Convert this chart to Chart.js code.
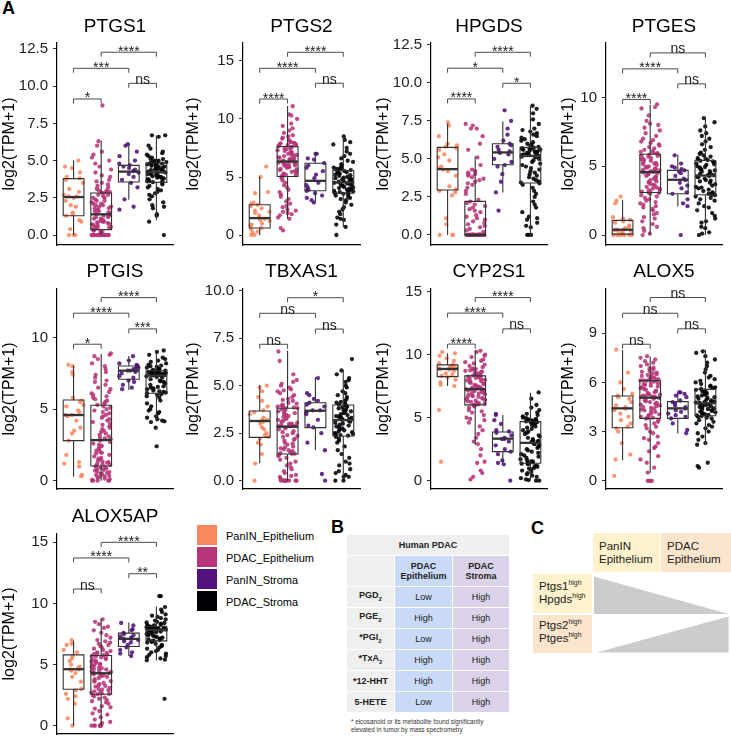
<!DOCTYPE html>
<html><head><meta charset="utf-8">
<script src="https://cdn.jsdelivr.net/npm/chart.js@4.4.1/dist/chart.umd.min.js"></script>
<style>
html,body{margin:0;padding:0;background:#fff;}
body{width:731px;height:737px;position:relative;overflow:hidden;font-family:"Liberation Sans",Arial,sans-serif;color:#000;}
canvas{position:absolute;}
.abs{position:absolute;}
.big{position:absolute;font-weight:bold;font-size:18px;line-height:18px;}
.key{position:absolute;left:197px;width:20px;height:20px;}
.ktxt{position:absolute;left:226px;font-size:11px;line-height:12px;white-space:nowrap;}
.cell{position:absolute;display:flex;align-items:center;justify-content:center;text-align:center;font-size:9px;line-height:10.5px;color:#222;}
.cell b sub{font-size:6px;}
.g{background:#efefef;} .bl{background:#c9daf8;} .pu{background:#d9d2e9;}
.cbox{position:absolute;font-size:11.5px;line-height:13.3px;color:#222;box-sizing:border-box;}
.cbox sup{font-size:7px;vertical-align:5px;line-height:0;}
.foot{position:absolute;left:351px;top:717.5px;font-size:6.3px;line-height:8px;color:#333;white-space:nowrap;}
</style></head><body>

<div class="big" style="left:2px;top:-1px;">A</div>
<div class="big" style="left:331px;top:517.5px;">B</div>
<div class="big" style="left:531px;top:519px;">C</div>

<!-- legend -->
<div class="key" style="top:525px;background:#FB8861"></div><div class="ktxt" style="top:529.5px">PanIN_Epithelium</div>
<div class="key" style="top:547px;background:#B63679"></div><div class="ktxt" style="top:551.5px">PDAC_Epithelium</div>
<div class="key" style="top:569px;background:#51127C"></div><div class="ktxt" style="top:573.5px">PanIN_Stroma</div>
<div class="key" style="top:591px;background:#000004"></div><div class="ktxt" style="top:595.5px">PDAC_Stroma</div>

<!-- table B -->
<div class="cell g" style="left:347px;top:535px;width:162px;height:20px;"><b>Human PDAC</b></div>
<div class="cell g" style="left:347px;top:556px;width:47px;height:30px;"></div>
<div class="cell bl" style="left:395px;top:556px;width:57px;height:30px;"><b>PDAC<br>Epithelium</b></div>
<div class="cell pu" style="left:453px;top:556px;width:56px;height:30px;"><b>PDAC<br>Stroma</b></div>
<div id="tbl"></div>
<div class="foot">* eicosanoid or its metabolite found significantly<br>elevated in tumor by mass spectrometry</div>

<!-- panel C -->
<div class="cbox" style="left:593px;top:533px;width:67px;height:39px;background:#fff2cc;padding:7px 0 0 6px;">PanIN<br>Epithelium</div>
<div class="cbox" style="left:661px;top:533px;width:70px;height:39px;background:#fce5cd;padding:7px 0 0 6px;">PDAC<br>Epithelium</div>
<div class="cbox" style="left:533px;top:574px;width:59px;height:39px;background:#fff2cc;padding:6px 0 0 6px;line-height:12.5px;">Ptgs1<sup>high</sup><br>Hpgds<sup>high</sup></div>
<div class="cbox" style="left:533px;top:615px;width:59px;height:38px;background:#fce5cd;padding:4px 0 0 6px;line-height:12.5px;">Ptgs2<sup>high</sup><br>Ptges<sup>high</sup></div>
<svg class="abs" style="left:0;top:0" width="731" height="737">
<polygon points="594,576.5 594,614 728.5,614" fill="#cccccc"/>
<polygon points="596.5,652.5 728.5,616.5 728.5,652.5" fill="#cccccc"/>
</svg>

<script>
// ---------------- DATA ----------------
const GROUPS = ['PanIN_Epithelium','PDAC_Epithelium','PanIN_Stroma','PDAC_Stroma'];
const COLORS = ['#FB8861','#B63679','#51127C','#000004'];
const PAIRS = [[1,2],[1,3],[3,4],[2,4]];

// table B
const TB_ROWS = ['PGD|2','PGE|2','*PGI|2','*TxA|2','*12-HHT','5-HETE'];
const TB_EPI = ['Low','High','Low','High','High','Low'];
const TB_STR = ['High','High','High','High','High','High'];

// PTGS1
const PTGS1_ticks = [0,2.5,5,7.5,10,12.5];
const PTGS1_sig = ['*','***','ns','****'];
const PTGS1_brk = [9.14,11.2,10.19,12.28];
const PTGS1_box = [[0,1.30,2.55,3.79,5.02],[0,0.36,1.39,2.82,6.34],[2.37,3.56,4.26,4.68,6.07],[1.0,3.54,4.21,4.84,6.68]];
const PTGS1_o = [5.0,4.6,4.5,4.2,3.9,3.8,3.7,3.5,3.1,2.9,2.7,2.6,2.6,2.5,2.3,2.0,1.9,1.5,1.4,1.3,1.0,0.9,0.4,0,0,0];
const PTGS1_m = [8.7,6.3,6.0,5.6,5.4,5.2,5.0,4.8,4.6,4.4,4.2,4.0,3.9,3.7,3.6,3.5,3.4,3.3,3.2,3.1,3.0,3.0,2.9,2.9,2.85,
 2.8,2.7,2.7,2.6,2.5,2.5,2.4,2.3,2.3,2.2,2.1,2.1,2.0,2.0,1.9,1.9,1.8,1.8,1.7,1.7,1.6,1.6,1.5,1.5,1.4,
 1.35,1.3,1.3,1.2,1.2,1.1,1.1,1.0,1.0,0.95,0.9,0.9,0.85,0.8,0.8,0.75,0.7,0.7,0.6,0.6,0.55,0.5,0.5,0.45,0.4,
 0.3,0.3,0.2,0.2,0.1,0.1,0,0,0,0,0,0,0,0,0,0,0,0,0,0,0,0,0,0,0];
const PTGS1_p = [6.1,6.0,5.6,5.3,5.0,4.8,4.7,4.6,4.5,4.4,4.3,4.2,4.1,3.9,3.7,3.5,3.2,2.4,1.9,1.7];
const PTGS1_b = [6.7,6.7,6.6,6.0,5.8,5.6,5.5,5.4,5.3,5.2,5.1,5.1,5.0,5.0,4.95,4.9,4.9,4.85,4.85,
 4.8,4.8,4.75,4.7,4.7,4.65,4.6,4.6,4.55,4.5,4.5,4.45,4.4,4.4,4.35,4.3,4.3,4.25,4.2,
 4.2,4.15,4.1,4.1,4.05,4.0,4.0,3.95,3.9,3.9,3.85,3.8,3.8,3.75,3.7,3.65,3.6,3.6,3.55,
 3.5,3.4,3.3,3.2,3.1,3.0,2.9,2.8,2.7,2.6,2.4,2.2,2.0,1.9,1.8,1.4,1.3,0.9,0.0];

// PTGS2
const PTGS2_ticks = [0,5,10,15];
const PTGS2_sig = ['****','****','ns','****'];
const PTGS2_brk = [11.72,14.37,13.08,15.75];
const PTGS2_box = [[0,0.6,1.46,2.61,5.05],[1.4,5.05,6.34,7.63,11.13],[2.75,3.81,4.67,6.19,7.05],[0.66,3.61,4.53,5.56,8.49]];
const PTGS2_o = [5.9,5.0,3.7,3.6,2.8,2.7,2.6,2.5,2.3,2.1,2.0,1.9,1.7,1.5,1.4,1.3,1.2,1.0,0.9,0.8,0.6,0.5,0.3,0.2,0.0,0.0];
const PTGS2_m = [11.1,10.4,10.3,10.0,9.6,9.4,9.2,9.0,8.8,8.6,8.5,8.4,8.3,8.2,8.1,8.0,7.95,7.9,7.9,7.85,7.8,7.75,7.7,7.7,7.65,
 7.6,7.55,7.5,7.45,7.4,7.3,7.25,7.2,7.1,7.05,7.0,6.95,6.9,6.85,6.8,6.7,6.7,6.65,6.6,6.55,6.5,6.45,6.4,6.4,6.35,
 6.3,6.3,6.25,6.2,6.2,6.15,6.1,6.0,6.0,5.95,5.9,5.85,5.8,5.7,5.65,5.6,5.5,5.45,5.4,5.3,5.25,5.2,5.15,5.1,5.05,
 5.0,4.9,4.7,4.5,4.3,4.1,3.9,3.7,3.5,3.3,3.1,2.9,2.7,2.5,2.4,2.2,2.1,2.0,1.9,1.8,1.7,1.5,1.4,0.6,0.4];
const PTGS2_p = [7.0,7.0,6.6,6.5,6.2,6.0,5.8,5.5,5.2,4.9,4.5,4.3,4.1,3.9,3.8,3.6,3.4,3.2,3.0,2.8];
const PTGS2_b = [8.5,8.2,8.0,7.8,7.5,7.2,7.0,6.8,6.6,6.4,6.3,6.1,6.0,5.9,5.8,5.75,5.7,5.65,5.6,
 5.55,5.5,5.45,5.4,5.35,5.3,5.2,5.15,5.1,5.0,4.95,4.9,4.85,4.8,4.75,4.7,4.65,4.6,4.55,
 4.5,4.45,4.4,4.35,4.3,4.25,4.2,4.15,4.1,4.05,4.0,3.95,3.9,3.85,3.8,3.75,3.7,3.65,3.62,
 3.55,3.5,3.4,3.3,3.2,3.1,3.0,2.8,2.6,2.4,2.2,2.0,1.8,1.5,1.4,1.3,0.9,0.7,0.0];

// HPGDS
const HPGDS_ticks = [0,2.5,5,7.5,10,12.5];
const HPGDS_sig = ['****','*','*','****'];
const HPGDS_brk = [8.95,10.97,9.98,12.02];
const HPGDS_box = [[0,2.96,4.33,5.76,7.31],[0,0,0,2.21,5.17],[2.8,4.62,5.43,6.0,7.46],[0,3.42,5.2,5.76,8.52]];
const HPGDS_o = [7.4,7.2,6.5,6.0,5.9,5.8,5.7,5.6,5.3,5.1,4.9,4.5,4.4,4.3,4.2,3.9,3.2,3.0,2.9,2.8,2.6,1.1,0.7,0,0,0];
const HPGDS_m = [7.3,7.2,7.0,7.0,6.5,6.0,5.6,5.1,4.6,4.3,4.2,4.1,4.0,4.0,3.9,3.8,3.7,3.6,3.5,3.4,3.3,3.1,2.9,2.7,2.3,
 2.2,2.1,2.0,1.9,1.8,1.7,1.6,1.5,1.3,1.2,1.1,1.0,0.9,0.8,0.7,0.6,0.5,0.4,0.3,0.2,
 0,0,0,0,0,0,0,0,0,0,0,0,0,0,0,0,0,0,0,0,0,0,0,0,0,0,0,0,0,0,0,0,0,0,0,0,0,0,0,0,0,0,0,0,0,0,0,0,0,0,0,0,0,0,0];
const HPGDS_p = [8.2,7.5,7.0,6.6,6.2,6.0,5.9,5.8,5.6,5.5,5.4,5.3,5.0,4.8,4.6,4.5,4.0,3.5,2.8,1.6];
const HPGDS_b = [8.5,8.3,8.0,7.6,7.3,7.0,6.9,6.8,6.7,6.6,6.5,6.4,6.3,6.2,6.1,6.0,5.95,5.9,5.8,
 5.75,5.72,5.7,5.68,5.65,5.6,5.6,5.55,5.5,5.5,5.45,5.4,5.4,5.35,5.3,5.3,5.25,5.25,5.2,
 5.15,5.1,5.0,4.9,4.8,4.7,4.6,4.5,4.4,4.3,4.2,4.1,4.0,3.9,3.8,3.7,3.6,3.5,3.45,
 3.4,3.3,3.1,2.9,2.7,2.5,2.2,2.0,1.8,1.5,1.2,1.1,1.0,0.8,0.6,0.5,0,0,0];

// PTGES
const PTGES_ticks = [0,5,10];
const PTGES_sig = ['****','****','ns','ns'];
const PTGES_brk = [9.86,12.08,10.99,13.24];
const PTGES_box = [[0,0.07,0.39,1.07,2.57],[0,3.1,4.58,5.88,9.47],[2.08,3.0,4.02,4.7,5.84],[0,2.93,4.33,5.42,8.5]];
const PTGES_o = [2.8,2.5,2.3,1.3,1.2,1.1,1.0,0.9,0.7,0.6,0.5,0.4,0.4,0.35,0.3,0.3,0.2,0.1,0.05,0,0,0,0,0,0,0];
const PTGES_m = [9.5,9.3,9.2,8.7,8.3,8.1,8.0,7.8,7.6,7.4,7.2,7.0,6.9,6.8,6.7,6.6,6.5,6.4,6.3,6.2,6.1,6.05,6.0,5.95,5.9,
 5.85,5.8,5.75,5.7,5.6,5.55,5.5,5.45,5.4,5.3,5.25,5.2,5.15,5.1,5.0,4.95,4.9,4.85,4.8,4.75,4.7,4.7,4.65,4.6,4.6,
 4.55,4.5,4.45,4.4,4.3,4.25,4.2,4.1,4.05,4.0,3.9,3.85,3.8,3.7,3.65,3.6,3.5,3.45,3.4,3.35,3.3,3.25,3.2,3.15,3.1,
 3.05,3.0,2.9,2.8,2.7,2.6,2.5,2.4,2.3,2.2,2.1,2.0,1.9,1.8,1.6,1.5,1.3,1.2,1.0,0.8,0.6,0.5,0.3,0.1,0.0];
const PTGES_p = [5.8,5.2,5.0,4.9,4.8,4.7,4.6,4.5,4.3,4.1,4.0,3.8,3.6,3.4,3.1,3.0,2.6,2.3,2.1,0.0];
const PTGES_b = [8.5,8.2,7.9,7.6,7.4,7.2,7.0,6.8,6.6,6.4,6.2,6.0,5.9,5.8,5.7,5.6,5.55,5.5,5.45,
 5.4,5.35,5.3,5.2,5.15,5.1,5.0,4.95,4.9,4.8,4.75,4.7,4.65,4.6,4.5,4.45,4.4,4.35,4.35,
 4.3,4.25,4.2,4.1,4.0,3.95,3.9,3.8,3.7,3.6,3.5,3.45,3.4,3.3,3.2,3.1,3.05,3.0,2.95,
 2.9,2.8,2.7,2.6,2.5,2.3,2.1,2.0,1.8,1.6,1.4,1.2,1.0,0.9,0.6,0.5,0.2,0.1,0.0];

// PTGIS
const PTGIS_ticks = [0,5,10];
const PTGIS_sig = ['*','****','***','****'];
const PTGIS_brk = [9.54,11.71,10.61,12.8];
const PTGIS_box = [[0.28,2.8,4.59,5.64,8.04],[0,1.03,2.84,5.27,8.86],[6.34,7.09,7.69,8.02,8.72],[4.13,6.11,7.35,7.69,9.14]];
const PTGIS_o = [8.1,8.0,7.6,7.4,5.8,5.6,5.5,5.3,5.2,4.9,4.8,4.6,4.6,4.5,4.2,3.7,3.5,3.3,2.8,1.8,1.3,1.2,1.0,0.4,0.3];
const PTGIS_m = [8.9,8.8,8.7,8.5,8.2,8.0,7.8,7.6,7.4,7.2,7.0,6.9,6.7,6.5,6.4,6.2,6.1,6.0,5.9,5.8,5.7,5.6,5.5,5.4,5.3,
 5.2,5.1,5.0,4.9,4.8,4.7,4.6,4.5,4.4,4.3,4.2,4.1,4.0,3.9,3.8,3.7,3.6,3.5,3.4,3.3,3.2,3.1,3.0,2.95,2.9,
 2.8,2.7,2.6,2.5,2.45,2.4,2.3,2.2,2.1,2.0,1.95,1.9,1.8,1.7,1.6,1.55,1.5,1.4,1.35,1.3,1.25,1.2,1.15,1.1,1.05,
 1.0,0.95,0.9,0.85,0.8,0.75,0.7,0.65,0.6,0.55,0.5,0.45,0.4,0.35,0.3,0.25,0.2,0.15,0.1,0.05,0,0,0,0,0];
const PTGIS_p = [8.7,8.4,8.2,8.1,8.0,8.0,7.9,7.8,7.8,7.7,7.7,7.6,7.5,7.3,7.2,7.0,6.9,6.7,6.5,6.4];
const PTGIS_b = [9.1,9.0,8.8,8.6,8.5,8.4,8.3,8.2,8.1,8.05,8.0,7.95,7.9,7.85,7.8,7.8,7.75,7.7,7.7,
 7.68,7.66,7.64,7.62,7.6,7.58,7.56,7.54,7.52,7.5,7.48,7.46,7.44,7.42,7.4,7.4,7.38,7.37,7.36,
 7.3,7.25,7.2,7.1,7.0,6.95,6.9,6.8,6.7,6.6,6.55,6.5,6.45,6.4,6.3,6.25,6.2,6.15,6.12,
 6.05,6.0,5.9,5.8,5.6,5.4,5.2,5.0,4.9,4.8,4.7,4.5,4.4,4.3,4.2,4.15,4.1,3.7,2.4];

// TBXAS1
const TBXAS1_ticks = [0,2.5,5,7.5,10];
const TBXAS1_sig = ['ns','ns','ns','*'];
const TBXAS1_brk = [7.18,8.81,7.98,9.63];
const TBXAS1_box = [[0.91,2.28,3.14,3.67,5.04],[0,1.40,2.84,3.81,6.84],[1.61,2.79,3.68,4.1,5.44],[0.21,2.35,3.19,3.98,5.82]];
const TBXAS1_o = [5.0,4.9,4.7,4.4,4.2,3.9,3.7,3.6,3.5,3.3,3.2,3.2,3.1,3.0,2.8,2.7,2.5,2.4,2.3,2.2,2.0,1.9,1.4,0.9,0.0];
const TBXAS1_m = [6.8,6.3,5.6,5.3,5.2,5.1,5.0,4.9,4.8,4.75,4.7,4.6,4.5,4.4,4.3,4.25,4.2,4.1,4.05,4.0,3.95,3.9,3.9,3.85,3.82,
 3.8,3.75,3.7,3.65,3.6,3.55,3.5,3.45,3.4,3.35,3.3,3.25,3.2,3.15,3.1,3.05,3.0,3.0,2.95,2.95,2.9,2.9,2.88,2.86,2.85,
 2.8,2.75,2.7,2.6,2.55,2.5,2.4,2.35,2.3,2.2,2.15,2.1,2.0,1.95,1.9,1.8,1.75,1.7,1.65,1.6,1.55,1.5,1.45,1.42,1.41,
 1.35,1.3,1.2,1.1,1.0,0.9,0.8,0.7,0.6,0.5,0.4,0.3,0.25,0.2,0.1,0.05,0,0,0,0,0,0,0,0,0];
const TBXAS1_p = [5.4,4.6,4.5,4.3,4.2,4.1,4.0,3.9,3.7,3.7,3.6,3.5,3.2,2.9,2.8,2.5,2.0,1.6,0.35,0.0];
const TBXAS1_b = [6.4,5.8,5.6,5.4,5.3,5.2,5.0,4.9,4.7,4.6,4.5,4.4,4.3,4.2,4.15,4.1,4.05,4.0,4.0,
 3.95,3.9,3.85,3.8,3.75,3.7,3.65,3.6,3.55,3.5,3.45,3.4,3.4,3.35,3.3,3.3,3.25,3.22,3.2,
 3.15,3.1,3.05,3.0,2.95,2.9,2.85,2.8,2.75,2.7,2.65,2.6,2.55,2.5,2.48,2.45,2.42,2.4,2.37,
 2.3,2.2,2.1,2.0,1.8,1.6,1.4,1.2,1.0,0.9,0.8,0.6,0.5,0.4,0.3,0.2,0.2,0,0];

// CYP2S1
const CYP2S1_ticks = [0,5,10,15];
const CYP2S1_sig = ['****','****','ns','****'];
const CYP2S1_brk = [10.83,13.29,12.04,14.52];
const CYP2S1_box = [[7.51,8.25,8.86,9.18,10.11],[2.83,6.01,7.25,8.31,10.37],[1.38,2.3,3.33,3.86,5.21],[0,1.38,3.0,4.68,6.98]];
const CYP2S1_o = [10.2,10.1,9.9,9.7,9.5,9.3,9.2,9.1,9.0,9.0,8.9,8.9,8.85,8.8,8.7,8.5,8.4,8.3,8.2,8.0,7.8,7.6,7.5,5.6,1.5];
const CYP2S1_m = [10.3,10.2,10.0,9.9,9.8,9.6,9.5,9.4,9.3,9.2,9.1,9.0,8.9,8.85,8.8,8.75,8.7,8.65,8.6,8.55,8.5,8.45,8.4,8.35,8.32,
 8.3,8.25,8.2,8.15,8.1,8.05,8.0,7.95,7.9,7.85,7.8,7.75,7.7,7.65,7.6,7.55,7.5,7.45,7.4,7.38,7.35,7.32,7.3,7.28,7.26,
 7.2,7.15,7.1,7.05,7.0,6.95,6.9,6.85,6.8,6.75,6.7,6.65,6.6,6.55,6.5,6.45,6.4,6.35,6.3,6.25,6.2,6.15,6.1,6.05,6.02,
 6.0,5.9,5.8,5.6,5.5,5.4,5.2,5.0,4.9,4.8,4.6,4.3,4.0,3.7,3.4,3.1,2.9,2.5,2.0,1.5,1.4,0.8,0.6,0.3,0.1];
const CYP2S1_p = [5.3,5.2,4.8,4.5,4.0,3.9,3.8,3.6,3.4,3.3,3.3,3.1,2.8,2.5,2.3,2.1,1.6,1.4,1.3,0.0];
const CYP2S1_b = [7.0,6.5,6.0,5.8,5.6,5.4,5.3,5.2,5.1,5.0,4.95,4.9,4.85,4.8,4.78,4.75,4.72,4.7,4.69,
 4.65,4.55,4.5,4.4,4.3,4.2,4.1,4.0,3.9,3.8,3.7,3.6,3.5,3.4,3.3,3.2,3.15,3.1,3.05,
 2.95,2.9,2.8,2.7,2.6,2.5,2.4,2.3,2.2,2.1,2.0,1.9,1.8,1.7,1.6,1.55,1.5,1.45,1.4,
 1.35,1.3,1.2,1.15,1.1,1.0,0.95,0.9,0.8,0.7,0.6,0.5,0.4,0.3,0.2,0.1,0.05,0,0];

// ALOX5
const ALOX5_ticks = [0,3,6,9];
const ALOX5_sig = ['ns','ns','ns','ns'];
const ALOX5_brk = [8.33,10.22,9.27,11.18];
const ALOX5_box = [[1.26,3.24,4.42,5.17,7.98],[0.49,3.81,5.07,6.11,7.58],[2.89,3.81,4.42,4.83,5.34],[2.18,3.97,4.73,5.58,7.98]];
const ALOX5_o = [8.0,6.6,6.0,5.6,5.3,5.2,5.1,5.0,4.8,4.6,4.5,4.4,4.4,4.3,4.1,3.9,3.7,3.5,3.3,3.2,3.0,2.3,1.6,1.3,0.3];
const ALOX5_m = [7.6,7.5,7.4,7.3,7.2,7.1,7.0,6.9,6.85,6.8,6.7,6.65,6.6,6.55,6.5,6.45,6.4,6.35,6.3,6.25,6.2,6.18,6.15,6.13,6.12,
 6.1,6.05,6.0,5.95,5.9,5.85,5.8,5.75,5.7,5.65,5.6,5.55,5.5,5.45,5.4,5.35,5.3,5.28,5.25,5.2,5.18,5.15,5.12,5.1,5.08,
 5.05,5.0,4.95,4.9,4.85,4.8,4.75,4.7,4.65,4.6,4.55,4.5,4.45,4.4,4.35,4.3,4.25,4.2,4.1,4.05,4.0,3.95,3.9,3.85,3.82,
 3.8,3.7,3.6,3.5,3.4,3.3,3.2,3.0,2.9,2.7,2.6,2.5,2.3,2.1,2.0,1.8,1.5,1.3,1.1,0.8,0.5,0,0,0,0];
const ALOX5_p = [5.4,5.4,5.3,5.2,5.1,4.9,4.8,4.7,4.6,4.5,4.4,4.3,4.2,4.1,4.0,3.9,3.8,3.5,3.1,2.9];
const ALOX5_b = [7.9,7.8,7.6,7.4,7.2,7.0,6.8,6.6,6.4,6.3,6.2,6.1,6.0,5.9,5.8,5.75,5.7,5.65,5.6,
 5.55,5.5,5.45,5.4,5.35,5.3,5.25,5.2,5.15,5.1,5.05,5.0,4.95,4.9,4.85,4.82,4.8,4.77,4.75,
 4.7,4.66,4.62,4.58,4.55,4.5,4.46,4.42,4.38,4.34,4.3,4.26,4.22,4.18,4.14,4.1,4.06,4.02,3.99,
 3.95,3.9,3.85,3.8,3.7,3.6,3.5,3.4,3.3,3.2,3.0,2.9,2.7,2.5,2.3,2.2,1.1,0.9,0.8];

// ALOX5AP
const ALOX5AP_ticks = [0,5,10,15];
const ALOX5AP_sig = ['ns','****','**','****'];
const ALOX5AP_brk = [11.18,13.72,12.43,15.0];
const ALOX5AP_box = [[0,2.98,4.62,5.79,6.97],[0,2.57,4.29,5.74,8.74],[5.71,6.48,7.1,7.57,8.44],[5.33,6.94,7.84,8.11,9.75]];
const ALOX5AP_o = [7.0,6.7,6.6,6.2,6.0,5.7,5.5,5.3,5.0,4.8,4.7,4.6,4.6,4.5,4.3,4.0,3.6,3.0,2.9,2.6,2.4,2.2,1.8,0.6,0.0];
const ALOX5AP_m = [8.7,8.5,8.3,8.1,8.0,7.8,7.6,7.4,7.2,7.0,6.9,6.8,6.7,6.6,6.5,6.4,6.3,6.2,6.1,6.0,5.95,5.9,5.85,5.8,5.76,
 5.7,5.65,5.6,5.5,5.45,5.4,5.3,5.25,5.2,5.1,5.05,5.0,4.95,4.9,4.8,4.75,4.7,4.65,4.6,4.5,4.45,4.4,4.35,4.32,4.3,
 4.25,4.2,4.1,4.05,4.0,3.9,3.8,3.7,3.65,3.6,3.5,3.4,3.3,3.25,3.2,3.1,3.0,2.95,2.9,2.8,2.75,2.7,2.65,2.6,2.58,
 2.5,2.4,2.3,2.2,2.1,2.0,1.9,1.8,1.6,1.5,1.4,1.2,1.0,0.9,0.7,0.5,0.3,0.2,0,0,0,0,0,0,0];
const ALOX5AP_p = [8.4,8.2,7.9,7.8,7.6,7.5,7.4,7.3,7.2,7.1,7.1,7.0,6.9,6.8,6.6,6.4,6.2,6.0,5.9,5.7];
const ALOX5AP_b = [10.6,10.6,9.7,9.5,9.3,9.1,9.0,8.9,8.8,8.7,8.6,8.5,8.45,8.4,8.35,8.3,8.25,8.2,8.15,
 8.1,8.08,8.06,8.04,8.02,8.0,7.99,7.98,7.97,7.96,7.95,7.94,7.93,7.92,7.9,7.89,7.88,7.86,7.85,
 7.82,7.78,7.74,7.7,7.65,7.6,7.55,7.5,7.45,7.4,7.35,7.3,7.25,7.2,7.15,7.1,7.05,7.0,6.96,
 6.9,6.85,6.8,6.7,6.6,6.5,6.4,6.3,6.2,6.1,6.0,5.9,5.8,5.7,5.6,5.5,5.4,5.35,2.2];

// ---------------- LAYOUT ----------------
const COL_LEFT = [0,180,360,540], AXIS_X = [57,243,431,606], RIGHT = [173,360,547,722], YT_CENTER = [10,14,24,29];
const ROW_TOP = [43,289,534], ROW_BOT = [245,489,734], TITLE_Y = [26.5,271.7,517];

const PANELS = [
 {name:'PTGS1',r:0,c:0,ymin:-0.67,ymax:12.9,dec:1,ticks:PTGS1_ticks,sig:PTGS1_sig,brk:PTGS1_brk,box:PTGS1_box,pts:[PTGS1_o,PTGS1_m,PTGS1_p,PTGS1_b]},
 {name:'PTGS2',r:0,c:1,ymin:-0.86,ymax:16.55,dec:0,ticks:PTGS2_ticks,sig:PTGS2_sig,brk:PTGS2_brk,box:PTGS2_box,pts:[PTGS2_o,PTGS2_m,PTGS2_p,PTGS2_b]},
 {name:'HPGDS',r:0,c:2,ymin:-0.66,ymax:12.63,dec:1,ticks:HPGDS_ticks,sig:HPGDS_sig,brk:HPGDS_brk,box:HPGDS_box,pts:[HPGDS_o,HPGDS_m,HPGDS_p,HPGDS_b]},
 {name:'PTGES',r:0,c:3,ymin:-0.72,ymax:13.96,dec:0,ticks:PTGES_ticks,sig:PTGES_sig,brk:PTGES_brk,box:PTGES_box,pts:[PTGES_o,PTGES_m,PTGES_p,PTGES_b]},
 {name:'PTGIS',r:1,c:0,ymin:-0.58,ymax:13.4,dec:0,ticks:PTGIS_ticks,sig:PTGIS_sig,brk:PTGIS_brk,box:PTGIS_box,pts:[PTGIS_o,PTGIS_m,PTGIS_p,PTGIS_b]},
 {name:'TBXAS1',r:1,c:1,ymin:-0.44,ymax:10.09,dec:1,ticks:TBXAS1_ticks,sig:TBXAS1_sig,brk:TBXAS1_brk,box:TBXAS1_box,pts:[TBXAS1_o,TBXAS1_m,TBXAS1_p,TBXAS1_b]},
 {name:'CYP2S1',r:1,c:2,ymin:-0.66,ymax:15.2,dec:0,ticks:CYP2S1_ticks,sig:CYP2S1_sig,brk:CYP2S1_brk,box:CYP2S1_box,pts:[CYP2S1_o,CYP2S1_m,CYP2S1_p,CYP2S1_b]},
 {name:'ALOX5',r:1,c:3,ymin:-0.5,ymax:11.7,dec:0,ticks:ALOX5_ticks,sig:ALOX5_sig,brk:ALOX5_brk,box:ALOX5_box,pts:[ALOX5_o,ALOX5_m,ALOX5_p,ALOX5_b]},
 {name:'ALOX5AP',r:2,c:0,ymin:-0.68,ymax:15.68,dec:0,ticks:ALOX5AP_ticks,sig:ALOX5AP_sig,brk:ALOX5AP_brk,box:ALOX5AP_box,pts:[ALOX5AP_o,ALOX5AP_m,ALOX5AP_p,ALOX5AP_b]}
];

// table B rows
(function(){
  const host = document.getElementById('tbl'); let html='';
  TB_ROWS.forEach((lab,i)=>{
    const top = 587 + 21*i; const parts = lab.split('|');
    const txt = parts.length>1 ? parts[0]+'<sub>'+parts[1]+'</sub>' : parts[0];
    html += `<div class="cell g" style="left:347px;top:${top}px;width:47px;height:20px;"><b>${txt}</b></div>`;
    html += `<div class="cell bl" style="left:395px;top:${top}px;width:57px;height:20px;">${TB_EPI[i]}</div>`;
    html += `<div class="cell pu" style="left:453px;top:${top}px;width:56px;height:20px;">${TB_STR[i]}</div>`;
  });
  host.innerHTML = html;
})();

const FONT = '"Liberation Sans", Arial, sans-serif';
const PADT = 36, PADB = 14, PADR = 6;
// deterministic horizontal jitter (position only, hashed from point index)
const jit = (i,g) => { const s = Math.sin((i+1)*78.233 + (g+1)*12.9898) * 43758.5453; return ((s - Math.floor(s)) - 0.5) * 0.72; };
function hexA(h,a){const n=parseInt(h.slice(1),16);return `rgba(${n>>16},${(n>>8)&255},${n&255},${a})`;}

PANELS.forEach((P,pi)=>{
  const left = COL_LEFT[P.c], axisX = AXIS_X[P.c];
  const top = ROW_TOP[P.r] - PADT;
  const W = RIGHT[P.c] - left + PADR;
  const H = ROW_BOT[P.r] - ROW_TOP[P.r] + PADT + PADB;
  const cv = document.createElement('canvas');
  cv.width = W; cv.height = H; cv.style.left = left+'px'; cv.style.top = top+'px';
  cv.style.width = W+'px'; cv.style.height = H+'px';
  document.body.appendChild(cv);

  const datasets = P.pts.map((vals,g)=>({
    label: GROUPS[g],
    data: vals.map((v,i)=>({x: g+1+jit(i, g+4*pi), y: v})),
    backgroundColor: hexA(COLORS[g],0.88), borderWidth:0, pointRadius:2.15, pointHoverRadius:2.15
  }));

  const plug = {
    id:'boxbrk_'+P.name,
    beforeDatasetsDraw(chart){
      const {ctx, scales:{x,y}} = chart;
      ctx.save(); ctx.fillStyle='#fff';
      P.box.forEach((s,g)=>{
        const xl=x.getPixelForValue(g+1-0.375), xr=x.getPixelForValue(g+1+0.375);
        const yt=y.getPixelForValue(s[3]), yb=y.getPixelForValue(s[1]);
        ctx.fillRect(xl,yt,xr-xl,yb-yt);
      });
      ctx.restore();
    },
    afterDatasetsDraw(chart){
      const {ctx, scales:{x,y}, chartArea} = chart;
      ctx.save();
      ctx.strokeStyle='#333'; ctx.lineWidth=1.1;
      P.box.forEach((s,g)=>{
        const xc=x.getPixelForValue(g+1), xl=x.getPixelForValue(g+1-0.375), xr=x.getPixelForValue(g+1+0.375);
        const p=s.map(v=>y.getPixelForValue(v));
        ctx.beginPath();
        ctx.moveTo(xc,p[0]); ctx.lineTo(xc,p[1]);
        ctx.moveTo(xc,p[3]); ctx.lineTo(xc,p[4]);
        ctx.rect(xl,p[3],xr-xl,p[1]-p[3]);
        ctx.stroke();
        ctx.save(); ctx.lineWidth=2.3; ctx.beginPath(); ctx.moveTo(xl,p[2]); ctx.lineTo(xr,p[2]); ctx.stroke(); ctx.restore();
      });
      // significance brackets
      P.brk.forEach((yv,k)=>{
        const [a,b]=PAIRS[k];
        const x1=x.getPixelForValue(a), x2=x.getPixelForValue(b), yy=y.getPixelForValue(yv);
        ctx.strokeStyle='#4a4a4a'; ctx.lineWidth=1;
        ctx.beginPath(); ctx.moveTo(x1,yy+4.5); ctx.lineTo(x1,yy); ctx.lineTo(x2,yy); ctx.lineTo(x2,yy+4.5); ctx.stroke();
        const lab=P.sig[k];
        ctx.fillStyle='#222'; ctx.font='14px '+FONT; ctx.textAlign='center'; ctx.textBaseline='alphabetic';
        ctx.fillText(lab,(x1+x2)/2, lab==='ns' ? yy+0.5 : yy+3.5);
      });
      // panel title
      ctx.fillStyle='#000'; ctx.font='19px '+FONT; ctx.textAlign='center'; ctx.textBaseline='middle';
      ctx.fillText(P.name,(chartArea.left+chartArea.right)/2, TITLE_Y[P.r]-top);
      ctx.restore();
    }
  };

  new Chart(cv,{
    type:'scatter',
    data:{datasets},
    options:{
      responsive:false, animation:false, devicePixelRatio:1,
      layout:{padding:{left:0,top:PADT,right:PADR,bottom:PADB}},
      plugins:{legend:{display:false},tooltip:{enabled:false},title:{display:false}},
      scales:{
        x:{type:'linear',min:0.4,max:4.6,display:true,
           ticks:{display:false},grid:{display:false,drawTicks:false},
           border:{display:true,color:'#000',width:1.2},
           afterFit:s=>{s.height=0;}},
        y:{type:'linear',min:P.ymin,max:P.ymax,
           afterBuildTicks:s=>{s.ticks=P.ticks.map(v=>({value:v}));},
           ticks:{color:'#222',font:{size:15,family:FONT},padding:5,callback:v=>Number(v).toFixed(P.dec)},
           grid:{display:true,drawOnChartArea:false,drawTicks:true,tickLength:4,color:'#333'},
           border:{display:true,color:'#000',width:1.2},
           title:{display:true,text:'log2(TPM+1)',color:'#000',font:{size:16,family:FONT},padding:{top:YT_CENTER[P.c]-9.6,bottom:0}},
           afterFit:s=>{s.width=axisX-left;}}
      }
    },
    plugins:[plug]
  });
});
</script>
</body></html>
